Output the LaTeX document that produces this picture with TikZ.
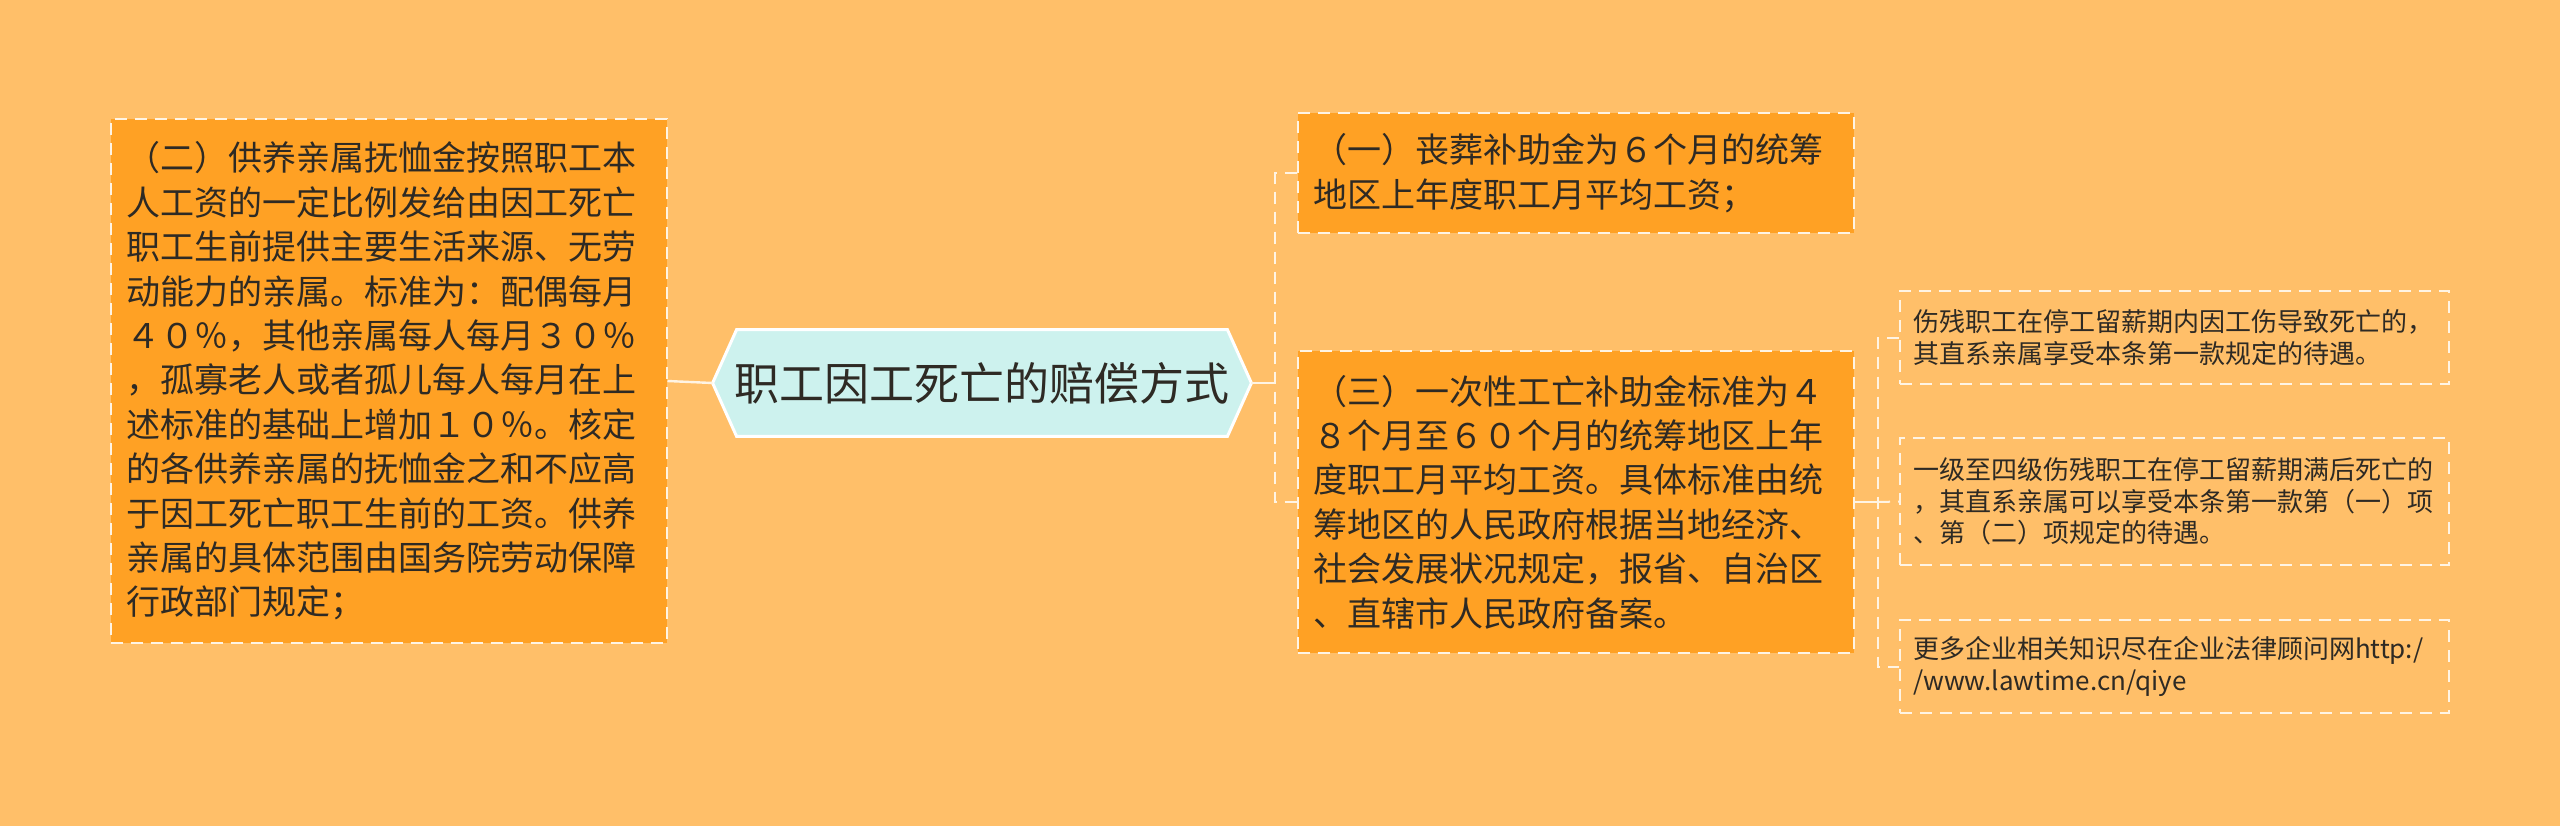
\documentclass[tikz,border=0pt]{standalone}
\usepackage{fontspec}
\setmainfont{Noto Sans CJK SC}
\usetikzlibrary{backgrounds}
\definecolor{bgc}{HTML}{FFBF69}
\definecolor{boxfill}{HTML}{FFA124}
\definecolor{hexfill}{HTML}{CDF2EE}
\definecolor{txt}{HTML}{2E2A24}
\definecolor{lineclr}{HTML}{FFF4E4}
\tikzset{
  bigbox/.style={draw=lineclr, line width=1pt, dash pattern=on 6pt off 4pt,
    fill=boxfill, text=txt, font=\fontsize{17pt}{22.2pt}\selectfont,
    align=left, text width=262pt, inner xsep=8pt, inner ysep=0pt,
    minimum width=278pt},
  smallbox/.style={draw=lineclr, line width=1pt, dash pattern=on 6pt off 4pt,
    text=txt, font=\fontsize{13pt}{15.8pt}\selectfont,
    align=left, text width=261.5pt, inner xsep=6.5pt, inner ysep=0pt,
    minimum width=274.5pt},
  hexnode/.style={text=txt, font=\fontsize{22.5pt}{26pt}\selectfont,
    minimum width=269pt, minimum height=53pt, inner sep=0pt},
  solidconn/.style={draw=lineclr, line width=1.2pt},
  dashconn/.style={draw=lineclr, line width=1pt, dash pattern=on 6pt off 4pt}
}
\begin{document}
\begin{tikzpicture}[x=0.5pt,y=-0.5pt]
\useasboundingbox (0,0) rectangle (2560,826);
\begin{scope}[on background layer]
  \fill[bgc] (0,0) rectangle (2560,826);
\end{scope}

% central hexagon
\node[hexnode] (hex) at (982,383) {职工因工死亡的赔偿方式};
\begin{scope}[on background layer]
  \draw[fill=hexfill, draw=white, line width=1.5pt]
    (hex.west) -- ([xshift=12pt]hex.north west) -- ([xshift=-12pt]hex.north east)
    -- (hex.east) -- ([xshift=-12pt]hex.south east) -- ([xshift=12pt]hex.south west) -- cycle;
\end{scope}

% left box
\node[bigbox, minimum height=262pt] (left) at (388.5,381) {（二）供养亲属抚恤金按照职工本\\人工资的一定比例发给由因工死亡\\职工生前提供主要生活来源、无劳\\动能力的亲属。标准为：配偶每月\\４０％，其他亲属每人每月３０％\\，孤寡老人或者孤儿每人每月在上\\述标准的基础上增加１０％。核定\\的各供养亲属的抚恤金之和不应高\\于因工死亡职工生前的工资。供养\\亲属的具体范围由国务院劳动保障\\行政部门规定；};

% right big boxes
\node[bigbox, minimum height=60pt] (b1) at (1575.5,173) {（一）丧葬补助金为６个月的统筹\\地区上年度职工月平均工资；};
\node[bigbox, minimum height=151pt] (b3) at (1575.5,502) {（三）一次性工亡补助金标准为４\\８个月至６０个月的统筹地区上年\\度职工月平均工资。具体标准由统\\筹地区的人民政府根据当地经济、\\社会发展状况规定，报省、自治区\\、直辖市人民政府备案。};

% small boxes
\node[smallbox, minimum height=46.5pt] (sa) at (2174.5,337.5) {伤残职工在停工留薪期内因工伤导致死亡的，\\其直系亲属享受本条第一款规定的待遇。};
\node[smallbox, minimum height=63.5pt] (sb) at (2174.5,501.5) {一级至四级伤残职工在停工留薪期满后死亡的\\，其直系亲属可以享受本条第一款第（一）项\\、第（二）项规定的待遇。};
\node[smallbox, minimum height=46.5pt] (sc) at (2174.5,666.5) {更多企业相关知识尽在企业法律顾问网http:/\\/www.lawtime.cn/qiye};

% connectors
\coordinate (j1) at (1275,383);
\coordinate (j2) at (1878,502);
\draw[solidconn] (left.east) -- (hex.west);
\draw[solidconn] (hex.east) -- (j1);
\draw[dashconn] (b1.west) -| (j1) |- (b3.west);
\draw[solidconn] (b3.east) -- (j2);
\draw[dashconn] (sa.west) -| (j2) |- (sc.west);
\draw[dashconn] (j2) -- (sb.west);
\end{tikzpicture}
\end{document}
